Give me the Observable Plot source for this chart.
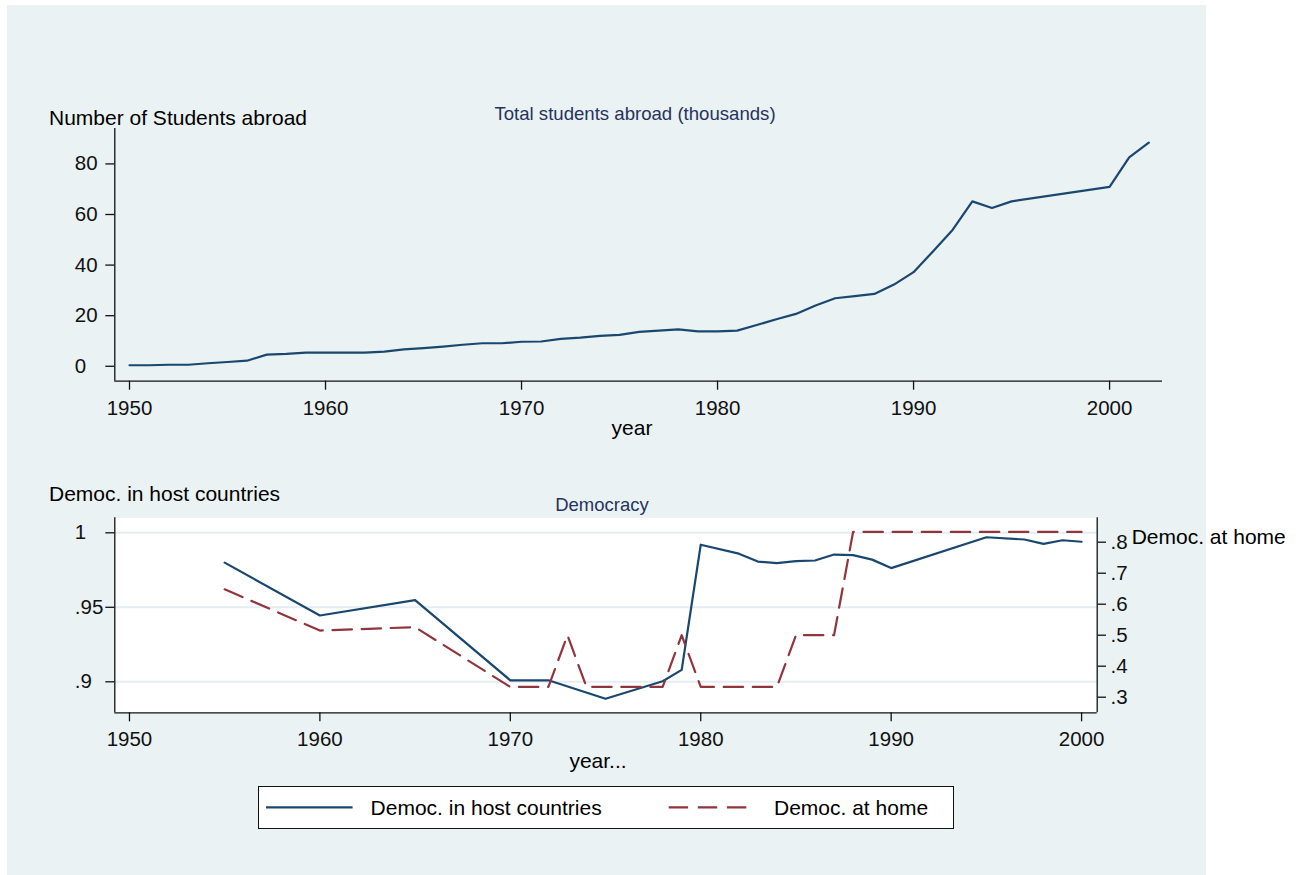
<!DOCTYPE html>
<html>
<head>
<meta charset="utf-8">
<script src="https://cdn.jsdelivr.net/npm/d3@7"></script>
<script src="https://cdn.jsdelivr.net/npm/@observablehq/plot@0.6"></script>
<style>
  html, body { margin: 0; padding: 0; background: #fff; overflow: hidden; }
  #page { position: relative; width: 1305px; height: 875px; font-family: "Liberation Sans", Arial, sans-serif; }
  #bg { position: absolute; left: 7px; top: 5px; width: 1199px; height: 870px; background: #eaf2f3; }
  .lbl { position: absolute; white-space: nowrap; line-height: 1; }
  .plotbox { position: absolute; left: 0; }
  #legend { position: absolute; left: 257.6px; top: 785.7px; width: 694px; height: 41px; background: #fff; border: 1.3px solid #111; }
</style>
</head>
<body>
<div id="page">
  <div id="bg"></div>
  <div id="top" class="plotbox" style="top:0px"></div>
  <div id="bottom" class="plotbox" style="top:450px"></div>
</div>
<script>
// ---------- data ----------
const studentYears = [1950,1951,1952,1953,1954,1955,1956,1957,1958,1959,1960,1961,1962,1963,1964,1965,1966,1967,1968,1969,1970,1971,1972,1973,1974,1975,1976,1977,1978,1979,1980,1981,1982,1983,1984,1985,1986,1987,1988,1989,1990,1991,1992,1993,1994,1995,2000,2001,2002];
const studentValues = [0.4,0.4,0.6,0.6,1.2,1.7,2.2,4.6,4.9,5.4,5.4,5.4,5.4,5.8,6.7,7.2,7.8,8.5,9.1,9.1,9.7,9.8,10.8,11.3,12.0,12.4,13.6,14.1,14.6,13.8,13.8,14.1,16.3,18.6,20.7,24.0,26.9,27.7,28.6,32.3,37.2,45.5,54.0,65.2,62.6,65.2,70.9,82.6,88.4];

const hostYears = [1955,1960,1965,1970,1972,1975,1978,1979,1980,1982,1983,1984,1985,1986,1987,1988,1989,1990,1995,1997,1998,1999,2000];
const hostValues = [0.980,0.9445,0.9548,0.901,0.901,0.8886,0.9004,0.908,0.992,0.986,0.9807,0.9796,0.981,0.9814,0.9854,0.985,0.982,0.9763,0.997,0.9955,0.9926,0.995,0.994];

const homeYears = [1955,1960,1965,1970,1972,1973,1974,1978,1979,1980,1984,1985,1987,1988,2000];
const homeValues = [0.648,0.515,0.526,0.333,0.333,0.5,0.333,0.333,0.5,0.333,0.333,0.5,0.5,0.833,0.833];

const yearTicks = [1950,1960,1970,1980,1990,2000];
const studentTicks = [0,20,40,60,80];
const hostTicks = [0.9,0.95,1];
const homeTicks = [0.3,0.4,0.5,0.6,0.7,0.8];

const topTitle = "Number of Students abroad";
const topSubtitle = "Total students abroad (thousands)";
const topXLabel = "year";
const botTitle = "Democ. in host countries";
const botSubtitle = "Democracy";
const botRightTitle = "Democ. at home";
const botXLabel = "year...";
const legendLabels = ["Democ. in host countries", "Democ. at home"];

// ---------- styling ----------
const NAVY = "#1a476f";
const MAROON = "#90353b";
const AXIS = "#111";
const SUBCOL = "#27335e";
const FONT = '"Liberation Sans", Arial, sans-serif';
const DASH = "19.4,9.7";

const students = studentYears.map((y, i) => ({year: y, value: studentValues[i]}));
const host = hostYears.map((y, i) => ({year: y, value: hostValues[i]}));
const home = homeYears.map((y, i) => ({year: y, value: homeValues[i]}));

// ---------- top chart ----------
const topX = [1949.25, 2002.7];
const topY = [-5.9, 94];
const topPlot = Plot.plot({
  width: 1305, height: 450,
  marginLeft: 114.3, marginRight: 143, marginTop: 128, marginBottom: 69.3,
  style: {background: "transparent", fontFamily: FONT, fontSize: "20.5px", color: AXIS, overflow: "visible"},
  x: {domain: topX, label: null},
  y: {domain: topY, label: null},
  marks: [
    Plot.axisX(yearTicks, {tickSize: 9, tickPadding: 10, tickFormat: d => String(d), strokeWidth: 1.3, label: null}),
    Plot.axisY(studentTicks, {tickSize: 9, tickPadding: 31, textAnchor: "start", tickFormat: d => String(d), strokeWidth: 1.3, label: null}),
    Plot.ruleX([topX[0]], {stroke: AXIS, strokeWidth: 1.3}),
    Plot.ruleY([topY[0]], {stroke: AXIS, strokeWidth: 1.3}),
    Plot.line(students, {x: "year", y: "value", stroke: NAVY, strokeWidth: 2.2})
  ]
});
document.getElementById("top").appendChild(topPlot);

// ---------- bottom chart (dual axis) ----------
const botX = [1949.23, 2000.82];
const hostDom = [0.87919, 1.01007];
const homeDom = [0.24968, 0.87871];
const toHost = m => hostDom[0] + (m - homeDom[0]) * (hostDom[1] - hostDom[0]) / (homeDom[1] - homeDom[0]);
const fromHost = h => homeDom[0] + (h - hostDom[0]) * (homeDom[1] - homeDom[0]) / (hostDom[1] - hostDom[0]);
const fmtLead = d => (Math.abs(d - 1) < 1e-9 ? "1" : String(+d.toFixed(3)).replace(/^0/, ""));

const botPlot = Plot.plot({
  width: 1305, height: 320,
  marginLeft: 114.3, marginRight: 208.3, marginTop: 67.3, marginBottom: 57.7,
  style: {background: "transparent", fontFamily: FONT, fontSize: "20.5px", color: AXIS, overflow: "visible"},
  x: {domain: botX, label: null},
  y: {domain: hostDom, label: null},
  marks: [
    Plot.frame({fill: "#fff", stroke: "none"}),
    Plot.gridY(hostTicks, {stroke: "#e4edf1", strokeOpacity: 1, strokeWidth: 2}),
    Plot.axisX(yearTicks, {tickSize: 9, tickPadding: 10, tickFormat: d => String(d), strokeWidth: 1.3, label: null}),
    Plot.axisY(hostTicks, {anchor: "left", tickSize: 9, tickPadding: 31, textAnchor: "start", tickFormat: fmtLead, strokeWidth: 1.3, label: null}),
    Plot.axisY(homeTicks.map(toHost), {anchor: "right", tickSize: 8.3, tickPadding: 5, textAnchor: "start",
      tickFormat: d => d3.format(".1f")(fromHost(d)).replace(/^0/, ""), strokeWidth: 1.3, label: null}),
    Plot.ruleX([botX[0]], {stroke: AXIS, strokeWidth: 1.3}),
    Plot.ruleX([botX[1]], {stroke: AXIS, strokeWidth: 1.3}),
    Plot.ruleY([hostDom[0]], {stroke: AXIS, strokeWidth: 1.3}),
    Plot.line(host, {x: "year", y: "value", stroke: NAVY, strokeWidth: 2.2}),
    Plot.line(home, {x: "year", y: d => toHost(d.value), stroke: MAROON, strokeWidth: 2.2, strokeDasharray: DASH})
  ]
});
document.getElementById("bottom").appendChild(botPlot);

// ---------- text labels ----------
const page = document.getElementById("page");
function label(text, x, baseline, size, anchor, color) {
  const el = document.createElement("div");
  el.className = "lbl";
  el.textContent = text;
  el.style.fontSize = size + "px";
  el.style.color = color || "#000";
  el.style.top = (baseline - 0.8465 * size) + "px";
  if (anchor === "middle") { el.style.left = x + "px"; el.style.transform = "translateX(-50%)"; }
  else el.style.left = x + "px";
  page.appendChild(el);
  return el;
}
label(topTitle, 49, 125, 21, "start");
label(topSubtitle, 635, 120.7, 18.6, "middle", SUBCOL);
label(topXLabel, 632, 435, 21, "middle");
label(botTitle, 49, 500.7, 21, "start");
label(botSubtitle, 602, 511.7, 18.5, "middle", SUBCOL);
label(botRightTitle, 1131.7, 543.3, 21, "start");
label(botXLabel, 598, 767.3, 21, "middle");

// ---------- legend ----------
const legend = document.createElement("div");
legend.id = "legend";
page.appendChild(legend);
const ns = "http://www.w3.org/2000/svg";
function sample(x1, x2, y, color, dash) {
  const svg = document.createElementNS(ns, "svg");
  svg.setAttribute("width", 1305); svg.setAttribute("height", 875);
  svg.style.position = "absolute"; svg.style.left = "0"; svg.style.top = "0"; svg.style.pointerEvents = "none";
  const ln = document.createElementNS(ns, "line");
  ln.setAttribute("x1", x1); ln.setAttribute("x2", x2); ln.setAttribute("y1", y); ln.setAttribute("y2", y);
  ln.setAttribute("stroke", color); ln.setAttribute("stroke-width", 2.2);
  if (dash) ln.setAttribute("stroke-dasharray", dash);
  svg.appendChild(ln);
  page.appendChild(svg);
}
sample(266, 352.6, 807.3, NAVY, null);
sample(668.7, 756, 807.3, MAROON, DASH);
label(legendLabels[0], 370.6, 815, 21, "start");
label(legendLabels[1], 774, 815, 21, "start");
</script>
</body>
</html>
